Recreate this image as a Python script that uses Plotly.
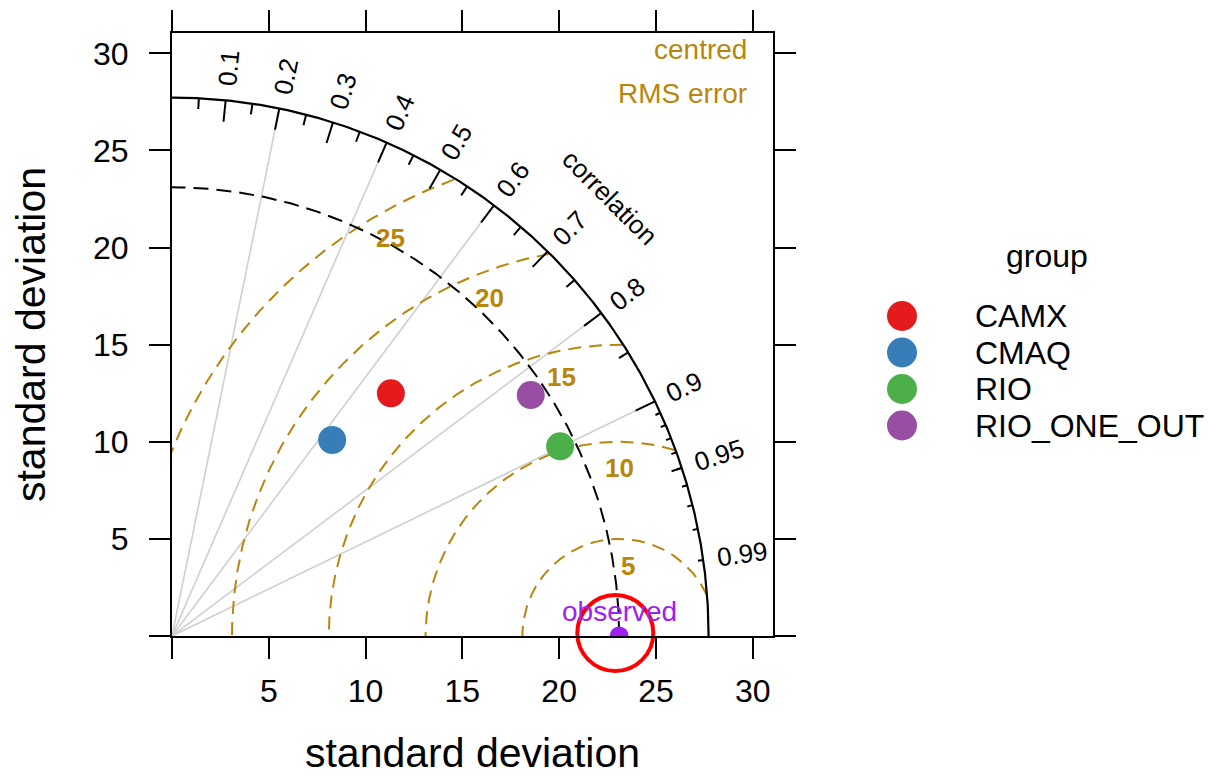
import numpy as np
import plotly.graph_objects as go

# ---------------- data ----------------
groups = ["CAMX", "CMAQ", "RIO", "RIO_ONE_OUT"]
sd_model = [16.85, 13.05, 22.30, 22.30]
cor_model = [0.671, 0.634, 0.899, 0.831]
group_colors = ["#E41A1C", "#377EB8", "#4DAF4A", "#984EA3"]
sd_obs = 23.1
rms_levels = [5, 10, 15, 20, 25]
cor_line_vals = [0.2, 0.4, 0.6, 0.8, 0.9]
cor_label_vals = [0.1, 0.2, 0.3, 0.4, 0.5, 0.6, 0.7, 0.8, 0.9, 0.95, 0.99]
big_ticks = [0.1, 0.2, 0.3, 0.4, 0.5, 0.6, 0.7, 0.8, 0.9]
med_ticks = [0.05, 0.15, 0.25, 0.35, 0.45, 0.55, 0.65, 0.75, 0.85, 0.95]
small_ticks = [0.91, 0.92, 0.93, 0.94, 0.95, 0.96, 0.97, 0.98, 0.99]
axis_ticks = [0, 5, 10, 15, 20, 25, 30]
axis_ticktext = ["", "5", "10", "15", "20", "25", "30"]

# ---------------- style ----------------
GOLD = "#B8860B"
FONT = "Liberation Sans, Arial, Helvetica, sans-serif"
rms_label_angles = [83, 90, 102.5, 111, 120]   # degrees, label placement
rms_label_inset = 1.35

maxsd = 1.2 * max(sd_obs, max(sd_model))
lim = 1.12 * maxsd

fig = go.Figure()

# correlation lines
xs, ys = [], []
for c in cor_line_vals:
    a = np.arccos(c)
    xs += [0, maxsd * np.cos(a), None]
    ys += [0, maxsd * np.sin(a), None]
fig.add_trace(go.Scatter(x=xs, y=ys, mode="lines",
                         line=dict(color="#CFCFCF", width=1.6),
                         hoverinfo="skip", showlegend=False))

# centred RMS error contours
for r in rms_levels:
    th = np.linspace(0, np.pi, 600)
    cx = sd_obs + r * np.cos(th)
    cy = r * np.sin(th)
    inside = np.hypot(cx, cy) <= maxsd
    px = [float(a) if ok else None for a, ok in zip(cx, inside)]
    py = [float(b) if ok else None for b, ok in zip(cy, inside)]
    fig.add_trace(go.Scatter(x=px, y=py, mode="lines",
                             line=dict(color=GOLD, width=2, dash="13px,8px"),
                             hoverinfo="skip", showlegend=False))

# observed sd arc (dashed) and outer arc (solid)
th = np.linspace(0, np.pi / 2, 400)
fig.add_trace(go.Scatter(x=sd_obs * np.cos(th), y=sd_obs * np.sin(th), mode="lines",
                         line=dict(color="black", width=2, dash="15px,8px"),
                         hoverinfo="skip", showlegend=False))
fig.add_trace(go.Scatter(x=maxsd * np.cos(th), y=maxsd * np.sin(th), mode="lines",
                         line=dict(color="black", width=2.2),
                         hoverinfo="skip", showlegend=False))

# ticks on the correlation arc
tx, ty = [], []
for vals, f in ((big_ticks, 0.96), (med_ticks, 0.98), (small_ticks, 0.99)):
    for c in vals:
        a = np.arccos(c)
        tx += [maxsd * np.cos(a), f * maxsd * np.cos(a), None]
        ty += [maxsd * np.sin(a), f * maxsd * np.sin(a), None]
fig.add_trace(go.Scatter(x=tx, y=ty, mode="lines",
                         line=dict(color="black", width=2),
                         hoverinfo="skip", showlegend=False))

# model points
for g, s, c, col in zip(groups, sd_model, cor_model, group_colors):
    a = np.arccos(c)
    fig.add_trace(go.Scatter(x=[s * np.cos(a)], y=[s * np.sin(a)], mode="markers",
                             marker=dict(size=28, color=col), name=g, showlegend=False))

# observed point
fig.add_trace(go.Scatter(x=[sd_obs], y=[0], mode="markers",
                         marker=dict(size=19, color="#A020F0"),
                         showlegend=False, cliponaxis=True))
# red highlight circle
fig.add_trace(go.Scatter(x=[sd_obs - 0.2], y=[0.15], mode="markers",
                         marker=dict(size=76, symbol="circle-open", color="#FF0000",
                                     line=dict(color="#FF0000", width=4)),
                         showlegend=False, cliponaxis=False, hoverinfo="skip"))

ann = []
# correlation labels
for c in cor_label_vals:
    a = np.arccos(c)
    lab = ("%g" % c)
    rf = 1.060 if len(lab) == 3 else 1.074
    ann.append(dict(x=rf * maxsd * np.cos(a), y=rf * maxsd * np.sin(a), text=lab,
                    showarrow=False, textangle=-np.degrees(a),
                    font=dict(size=26, color="black"), xref="x", yref="y"))
ann.append(dict(x=1.152 * maxsd * np.cos(np.pi / 4), y=1.152 * maxsd * np.sin(np.pi / 4),
                text="correlation", showarrow=False, textangle=45,
                font=dict(size=26, color="black"), xref="x", yref="y"))
# RMS labels
for r, ang in zip(rms_levels, rms_label_angles):
    a = np.radians(ang)
    ann.append(dict(x=sd_obs + (r - rms_label_inset) * np.cos(a),
                    y=(r - rms_label_inset) * np.sin(a),
                    text="<b>%d</b>" % r, showarrow=False,
                    font=dict(size=26, color=GOLD), xref="x", yref="y"))
ann.append(dict(x=29.8, y=30.2, text="centred", showarrow=False, xanchor="right",
                font=dict(size=28, color=GOLD), xref="x", yref="y"))
ann.append(dict(x=29.8, y=27.95, text="RMS error", showarrow=False, xanchor="right",
                font=dict(size=28, color=GOLD), xref="x", yref="y"))
ann.append(dict(x=sd_obs, y=1.25, text="observed", showarrow=False,
                font=dict(size=28, color="#A020F0"), xref="x", yref="y"))

# ---------------- layout (page has an 8px body margin) ----------------
OFF = 8
SCR_L, SCR_T, SCR_B, SCR_R = 172, 33, 636, 773     # plot frame in screen pixels
W, H = 1220 - OFF, 776 - OFF
ml, mt = SCR_L - OFF, SCR_T - OFF
mb = H - (SCR_B - OFF)
plot_w = W - ml
main_frac = (SCR_R - SCR_L) / plot_w
LEG_L = 880

# custom legend (axes x2/y2 in screen-pixel units)
leg_x_marker = 902
leg_x_text = 973
leg_y0 = 316
leg_dy = 36.5
fig.add_trace(go.Scatter(x=[leg_x_marker] * len(groups),
                         y=[leg_y0 + i * leg_dy for i in range(len(groups))],
                         mode="markers", marker=dict(size=30, color=group_colors),
                         xaxis="x2", yaxis="y2", showlegend=False, cliponaxis=False,
                         hoverinfo="skip"))
for i, g in enumerate(groups):
    ann.append(dict(x=leg_x_text, y=leg_y0 + i * leg_dy, text=g, showarrow=False,
                    xanchor="left", font=dict(size=32, color="black"),
                    xref="x2", yref="y2"))
ann.append(dict(x=1047, y=256, text="group", showarrow=False,
                font=dict(size=32, color="black"), xref="x2", yref="y2"))

axis_common = dict(range=[0, lim], tickvals=axis_ticks, ticktext=axis_ticktext,
                   ticks="outside", ticklen=21, tickwidth=2, tickcolor="black",
                   showline=True, linewidth=2, linecolor="black", mirror="ticks",
                   showgrid=False, zeroline=False,
                   tickfont=dict(size=32, color="black", family=FONT))

fig.update_layout(
    width=W, height=H,
    margin=dict(l=ml, r=0, t=mt, b=mb, pad=0),
    paper_bgcolor="white", plot_bgcolor="white",
    font=dict(family=FONT, color="black"),
    showlegend=False,
    xaxis=dict(domain=[0, main_frac], anchor="y", ticklabelstandoff=5,
               title=dict(text="standard deviation", font=dict(size=41), standoff=36),
               **axis_common),
    yaxis=dict(domain=[0, 1], anchor="x", ticklabelstandoff=14,
               title=dict(text="standard deviation", font=dict(size=41), standoff=52),
               **axis_common),
    xaxis2=dict(domain=[(LEG_L - OFF - ml) / plot_w, 1], range=[LEG_L, 1220],
                visible=False, anchor="y2"),
    yaxis2=dict(domain=[0, 1], range=[SCR_B, SCR_T], visible=False, anchor="x2"),
    annotations=ann,
)

fig.write_html("out.html")
